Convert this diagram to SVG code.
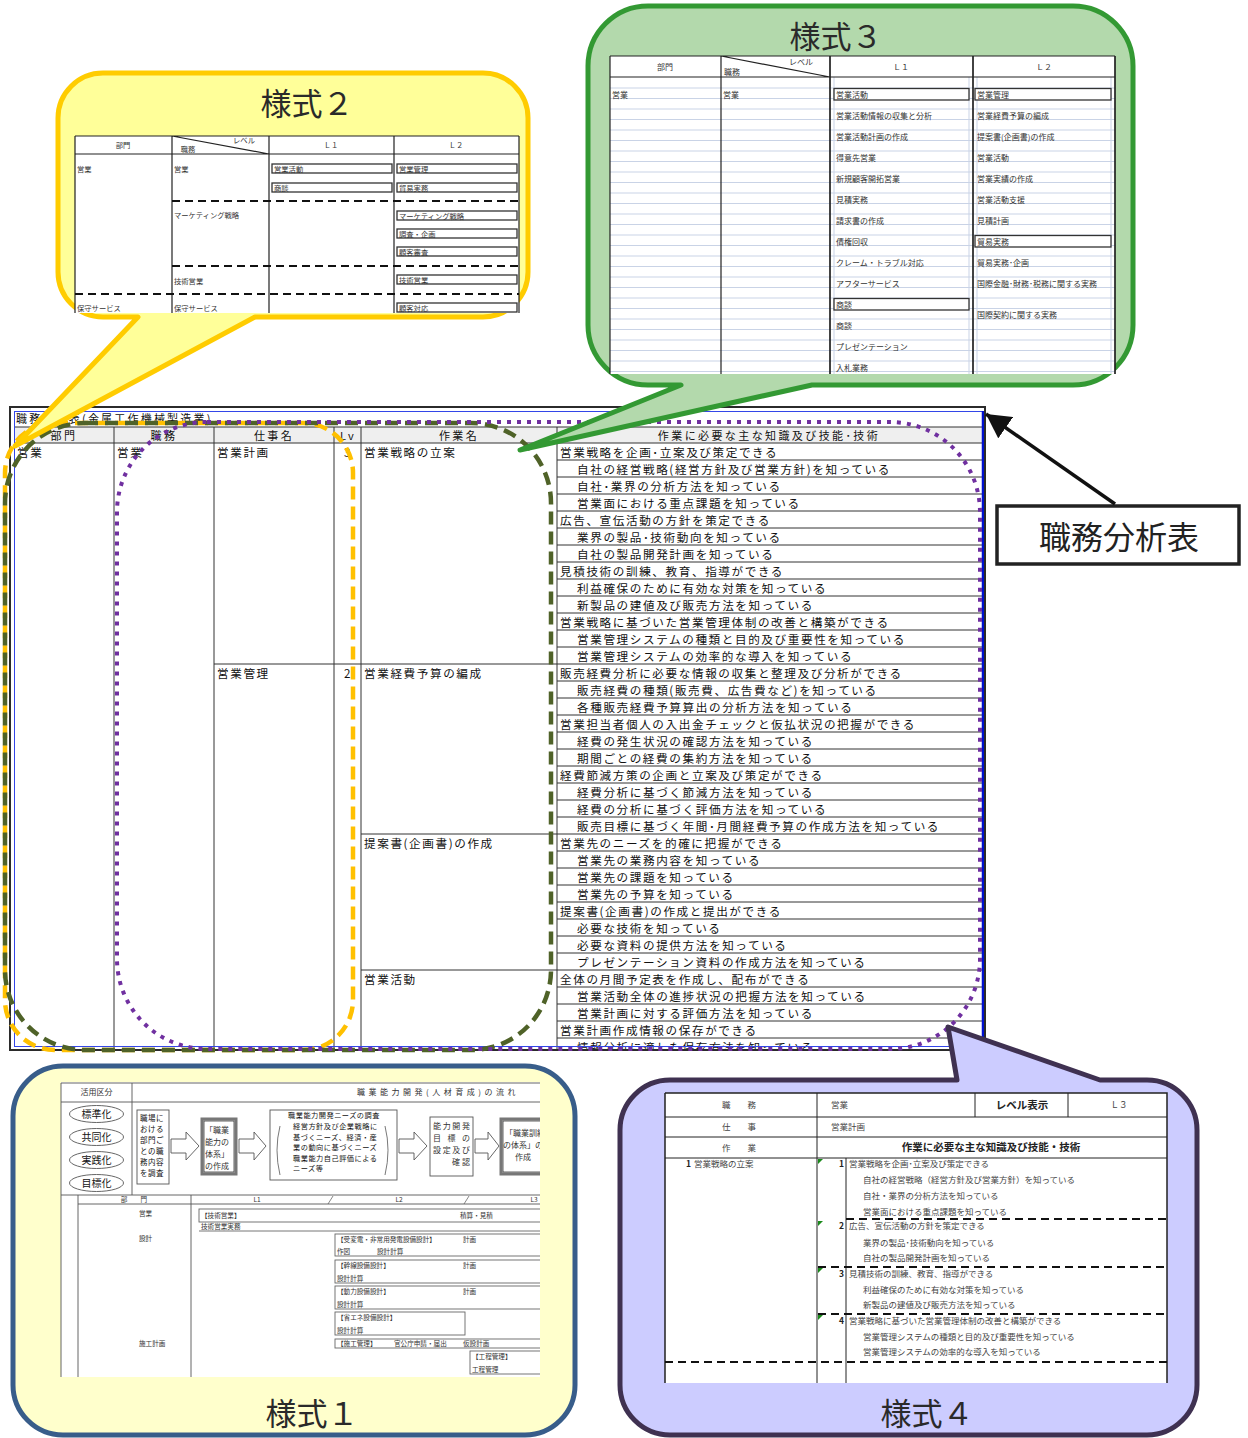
<svg xmlns="http://www.w3.org/2000/svg" width="1248" height="1438" viewBox="0 0 1248 1438">
<style>
  .t { font-family: "Noto Sans CJK JP", "Noto Sans CJK SC", sans-serif; fill: #111; }
  .mt { font-size: 11.6px; letter-spacing: 1.6px; }
  .hd { font-size: 11px; letter-spacing: 2.4px; text-anchor: middle; }
  .big { font-size: 31px; fill: #2a2a2a; text-anchor: middle; }
  .s7 { font-size: 7.3px; fill: #333; }
  .s8 { font-size: 8px; fill: #333; }
  .s4 { font-size: 8.5px; fill: #444; }
  .s6 { font-size: 6.6px; fill: #333; }
  .c { text-anchor: middle; }
  .e { text-anchor: end; }
  .b { font-weight: bold; fill: #222; }
  .grid { stroke: #333; stroke-width: 1; fill: none; }
  .box { fill: #fff; stroke: #333; stroke-width: 1.3; }
  .thin { fill: #fff; stroke: #555; stroke-width: 0.9; }
  .light { stroke: #c9d3e6; stroke-width: 1; fill: none; }
  .dash { stroke: #111; stroke-width: 1.8; stroke-dasharray: 8 5; fill: none; }
</style>
<defs>
  <clipPath id="mainClip"><rect x="10" y="407" width="975" height="642"/></clipPath>
  <clipPath id="y3Clip"><rect x="605" y="50" width="515" height="324"/></clipPath>
  <clipPath id="y1Clip"><rect x="55" y="1080" width="485" height="297"/></clipPath>
  <marker id="ah" viewBox="0 0 24 26" refX="24" refY="13" markerWidth="24" markerHeight="26" markerUnits="userSpaceOnUse" orient="auto">
    <path d="M0,0 L24,13 L0,26 z" fill="#111"/>
  </marker>
</defs>

<rect width="1248" height="1438" fill="#fff"/>

<!-- job analysis sheet -->
<g id="shokumu-table" class="t">
  <rect x="10" y="407" width="975" height="643" fill="#fff"/>
  <g clip-path="url(#mainClip)">
    <rect x="14" y="427" width="968" height="16" fill="#efefef"/>
    <path class="grid" d="M14 427H982M14 443H982M114 427V1050M214 427V1050M334 427V1050M361 427V1050M557 427V1050M214 664H557M361 834H557M361 970H557"/>
    <path class="grid" d="M557 460H982M557 477H982M557 494H982M557 511H982M557 528H982M557 545H982M557 562H982M557 579H982M557 596H982M557 613H982M557 630H982M557 647H982M557 664H982M557 681H982M557 698H982M557 715H982M557 732H982M557 749H982M557 766H982M557 783H982M557 800H982M557 817H982M557 834H982M557 851H982M557 868H982M557 885H982M557 902H982M557 919H982M557 936H982M557 953H982M557 970H982M557 987H982M557 1004H982M557 1021H982M557 1038H982"/>
    <text class="t" x="16" y="423" font-size="11" letter-spacing="2.2">職務分析表(金属工作機械製造業)</text>
    <text class="hd" x="64" y="439.5">部門</text>
    <text class="hd" x="164" y="439.5">職務</text>
    <text class="hd" x="274" y="439.5">仕事名</text>
    <text class="hd" x="348" y="439.5" letter-spacing="0.5">Lv</text>
    <text class="hd" x="459" y="439.5">作業名</text>
    <text class="hd" x="769" y="439.5">作業に必要な主な知識及び技能･技術</text>
    <text class="mt" x="17" y="457">営業</text>
    <text class="mt" x="117" y="457">営業</text>
    <text class="mt" x="217" y="457">営業計画</text>
    <text class="mt" x="344" y="457">3</text>
    <text class="mt" x="364" y="457">営業戦略の立案</text>
    <text class="mt" x="217" y="678">営業管理</text>
    <text class="mt" x="344" y="678">2</text>
    <text class="mt" x="364" y="678">営業経費予算の編成</text>
    <text class="mt" x="364" y="848">提案書(企画書)の作成</text>
    <text class="mt" x="364" y="984">営業活動</text>
    <g class="mt">
      <text x="560" y="457">営業戦略を企画･立案及び策定できる</text>
      <text x="577" y="474">自社の経営戦略(経営方針及び営業方針)を知っている</text>
      <text x="577" y="491">自社･業界の分析方法を知っている</text>
      <text x="577" y="508">営業面における重点課題を知っている</text>
      <text x="560" y="525">広告、宣伝活動の方針を策定できる</text>
      <text x="577" y="542">業界の製品･技術動向を知っている</text>
      <text x="577" y="559">自社の製品開発計画を知っている</text>
      <text x="560" y="576">見積技術の訓練、教育、指導ができる</text>
      <text x="577" y="593">利益確保のために有効な対策を知っている</text>
      <text x="577" y="610">新製品の建値及び販売方法を知っている</text>
      <text x="560" y="627">営業戦略に基づいた営業管理体制の改善と構築ができる</text>
      <text x="577" y="644">営業管理システムの種類と目的及び重要性を知っている</text>
      <text x="577" y="661">営業管理システムの効率的な導入を知っている</text>
      <text x="560" y="678">販売経費分析に必要な情報の収集と整理及び分析ができる</text>
      <text x="577" y="695">販売経費の種類(販売費、広告費など)を知っている</text>
      <text x="577" y="712">各種販売経費予算算出の分析方法を知っている</text>
      <text x="560" y="729">営業担当者個人の入出金チェックと仮払状況の把握ができる</text>
      <text x="577" y="746">経費の発生状況の確認方法を知っている</text>
      <text x="577" y="763">期間ごとの経費の集約方法を知っている</text>
      <text x="560" y="780">経費節減方策の企画と立案及び策定ができる</text>
      <text x="577" y="797">経費分析に基づく節減方法を知っている</text>
      <text x="577" y="814">経費の分析に基づく評価方法を知っている</text>
      <text x="577" y="831">販売目標に基づく年間･月間経費予算の作成方法を知っている</text>
      <text x="560" y="848">営業先のニーズを的確に把握ができる</text>
      <text x="577" y="865">営業先の業務内容を知っている</text>
      <text x="577" y="882">営業先の課題を知っている</text>
      <text x="577" y="899">営業先の予算を知っている</text>
      <text x="560" y="916">提案書(企画書)の作成と提出ができる</text>
      <text x="577" y="933">必要な技術を知っている</text>
      <text x="577" y="950">必要な資料の提供方法を知っている</text>
      <text x="577" y="967">プレゼンテーション資料の作成方法を知っている</text>
      <text x="560" y="984">全体の月間予定表を作成し、配布ができる</text>
      <text x="577" y="1001">営業活動全体の進捗状況の把握方法を知っている</text>
      <text x="577" y="1018">営業計画に対する評価方法を知っている</text>
      <text x="560" y="1035">営業計画作成情報の保存ができる</text>
      <text x="577" y="1052">情報分析に適した保存方法を知っている</text>
    </g>
  </g>
  <rect x="14.5" y="411.5" width="968" height="635" fill="none" stroke="#3346e8" stroke-width="1"/>
  <line x1="983" y1="411" x2="983" y2="1047" stroke="#0010d0" stroke-width="2.5"/>
  <rect x="10" y="407" width="975" height="643" fill="none" stroke="#2b2b2b" stroke-width="2"/>
</g>

<!-- dashed groupings drawn over the sheet -->
<g id="groupings" fill="none">
  <rect x="5" y="423" width="348" height="627" rx="50" stroke="#FFC000" stroke-width="4.5" stroke-dasharray="13 7"/>
  <rect x="5" y="423" width="546" height="627" rx="80" stroke="#4F6228" stroke-width="4.5" stroke-dasharray="13 7"/>
  <rect x="117" y="422" width="863" height="627" rx="90" stroke="#7030A0" stroke-width="4" stroke-dasharray="4 6"/>
</g>

<!-- form 2 callout -->
<g id="yoshiki2" class="t">
  <path d="M103 73H483A45 45 0 0 1 528 118V272A45 45 0 0 1 483 317H255L15 446L138 317H103A45 45 0 0 1 58 272V118A45 45 0 0 1 103 73Z" fill="#FFFF99" stroke="#FFCC00" stroke-width="5" stroke-linejoin="round"/>
  <text class="big" x="307" y="115">様式２</text>
  <rect x="75" y="136" width="444" height="177" fill="#fff"/>
  <path d="M75 136H519M75 154H519M75 136V313M172 136V313M269 136V313M394 136V313M519 136V313M172 136L269 154" stroke="#222" stroke-width="1.2" fill="none"/>
  <path class="dash" d="M172 201H519M172 266H519M75 294H519"/>
  <text class="s7 c" x="123" y="148">部門</text>
  <text class="s7 c" x="244" y="143">レベル</text>
  <text class="s7 c" x="188" y="152">職務</text>
  <text class="s7 c" x="331" y="148">Ｌ１</text>
  <text class="s7 c" x="456" y="148">Ｌ２</text>
  <text class="s7" x="77" y="172">営業</text>
  <text class="s7" x="174" y="172">営業</text>
  <text class="s7" x="174" y="218">マーケティング戦略</text>
  <text class="s7" x="174" y="284">技術営業</text>
  <text class="s7" x="77" y="311">保守サービス</text>
  <text class="s7" x="174" y="311">保守サービス</text>
  <g>
    <rect class="box" x="272" y="164" width="120" height="9"/>
    <rect class="box" x="272" y="183" width="120" height="9"/>
    <rect class="box" x="397" y="164" width="120" height="9"/>
    <rect class="box" x="397" y="183" width="120" height="9"/>
    <rect class="box" x="397" y="211" width="120" height="9"/>
    <rect class="box" x="397" y="229" width="120" height="9"/>
    <rect class="box" x="397" y="247" width="120" height="9"/>
    <rect class="box" x="397" y="275" width="120" height="9"/>
    <rect class="box" x="397" y="303" width="120" height="9"/>
  </g>
  <text class="s7" x="274" y="171.5">営業活動</text>
  <text class="s7" x="274" y="190.5">商談</text>
  <text class="s7" x="399" y="171.5">営業管理</text>
  <text class="s7" x="399" y="190.5">貿易実務</text>
  <text class="s7" x="399" y="218.5">マーケティング戦略</text>
  <text class="s7" x="399" y="236.5">調査・企画</text>
  <text class="s7" x="399" y="254.5">顧客審査</text>
  <text class="s7" x="399" y="282.5">技術営業</text>
  <text class="s7" x="399" y="310.5">顧客対応</text>
</g>

<!-- form 3 callout -->
<g id="yoshiki3" class="t">
  <path d="M648 6H1073A60 60 0 0 1 1133 66V325A60 60 0 0 1 1073 385H812L520 450L681 385H648A60 60 0 0 1 588 325V66A60 60 0 0 1 648 6Z" fill="#B3D9AC" stroke="#339933" stroke-width="5" stroke-linejoin="round"/>
  <text class="big" x="836" y="48">様式３</text>
  <g clip-path="url(#y3Clip)">
    <rect x="610" y="56" width="505" height="318" fill="#fff"/>
    <path class="light" d="M610 88H1115M610 98.5H1115M610 109H1115M610 119.5H1115M610 130H1115M610 140.5H1115M610 151H1115M610 161.5H1115M610 172H1115M610 182.5H1115M610 193H1115M610 203.5H1115M610 214H1115M610 224.5H1115M610 235H1115M610 245.5H1115M610 256H1115M610 266.5H1115M610 277H1115M610 287.5H1115M610 298H1115M610 308.5H1115M610 319H1115M610 329.5H1115M610 340H1115M610 350.5H1115M610 361H1115M610 371.5H1115M834 77V374M969 77V374M977 77V374M1111 77V374"/>
    <path d="M610 56H1115M610 77H1115M610 56V374M721 56V374M721 56L830 77" stroke="#222" stroke-width="1.2" fill="none"/>
    <path d="M830 56V374M973 56V374M1115 56V374" stroke="#222" stroke-width="1.7" fill="none"/>
    <text class="s8 c" x="665" y="70">部門</text>
    <text class="s8 c" x="801" y="64.5">レベル</text>
    <text class="s8 c" x="732" y="75">職務</text>
    <text class="s8 c" x="901" y="70">Ｌ１</text>
    <text class="s8 c" x="1044" y="70">Ｌ２</text>
    <rect class="box" x="834" y="88.5" width="135" height="11.5"/>
    <rect class="box" x="975" y="88.5" width="136" height="11.5"/>
    <rect class="box" x="834" y="298.5" width="135" height="11.5"/>
    <rect class="box" x="975" y="235.5" width="136" height="11.5"/>
    <text class="s8" x="612" y="97.5">営業</text>
    <text class="s8" x="723" y="97.5">営業</text>
    <g class="s8">
      <text x="836" y="97.5">営業活動</text>
      <text x="836" y="118.5">営業活動情報の収集と分析</text>
      <text x="836" y="139.5">営業活動計画の作成</text>
      <text x="836" y="160.5">得意先営業</text>
      <text x="836" y="181.5">新規顧客開拓営業</text>
      <text x="836" y="202.5">見積実務</text>
      <text x="836" y="223.5">請求書の作成</text>
      <text x="836" y="244.5">債権回収</text>
      <text x="836" y="265.5">クレーム・トラブル対応</text>
      <text x="836" y="286.5">アフターサービス</text>
      <text x="836" y="307.5">商談</text>
      <text x="836" y="328.5">商談</text>
      <text x="836" y="349.5">プレゼンテーション</text>
      <text x="836" y="370.5">入札業務</text>
      <text x="977" y="97.5">営業管理</text>
      <text x="977" y="118.5">営業経費予算の編成</text>
      <text x="977" y="139.5">提案書(企画書)の作成</text>
      <text x="977" y="160.5">営業活動</text>
      <text x="977" y="181.5">営業実績の作成</text>
      <text x="977" y="202.5">営業活動支援</text>
      <text x="977" y="223.5">見積計画</text>
      <text x="977" y="244.5">貿易実務</text>
      <text x="977" y="265.5">貿易実務･企画</text>
      <text x="977" y="286.5">国際金融･財務･税務に関する実務</text>
      <text x="977" y="318">国際契約に関する実務</text>
    </g>
  </g>
</g>

<!-- form 1 callout -->
<g id="yoshiki1" class="t">
  <rect x="13" y="1066" width="562" height="369" rx="50" fill="#FFFFCC" stroke="#385D8A" stroke-width="5"/>
  <text class="big" x="312" y="1425">様式１</text>
  <g clip-path="url(#y1Clip)">
    <rect x="61" y="1082" width="479" height="295" fill="#fff"/>
    <path d="M61 1083H545M61 1102H545M61 1195H545M61 1083V1377M132 1083V1195M78 1195V1377M191 1195V1377M78 1204H545" stroke="#555" stroke-width="0.9" fill="none"/>
    <text class="s8 c" x="96.5" y="1095">活用区分</text>
    <text class="s8" x="357" y="1095" letter-spacing="3.5">職業能力開発(人材育成)の流れ</text>
    <g>
      <ellipse class="thin" cx="96.5" cy="1114" rx="27" ry="8.5"/>
      <ellipse class="thin" cx="96.5" cy="1137" rx="27" ry="8.5"/>
      <ellipse class="thin" cx="96.5" cy="1160" rx="27" ry="8.5"/>
      <ellipse class="thin" cx="96.5" cy="1183" rx="27" ry="8.5"/>
    </g>
    <text class="t c" x="96.5" y="1117.5" font-size="10" fill="#333">標準化</text>
    <text class="t c" x="96.5" y="1140.5" font-size="10" fill="#333">共同化</text>
    <text class="t c" x="96.5" y="1163.5" font-size="10" fill="#333">実践化</text>
    <text class="t c" x="96.5" y="1186.5" font-size="10" fill="#333">目標化</text>
    <rect class="thin" x="137" y="1110" width="32" height="74"/>
    <g class="t" font-size="7.5" fill="#333" letter-spacing="0.5">
      <text x="140" y="1121">職場に</text>
      <text x="140" y="1132">おける</text>
      <text x="140" y="1143">部門ご</text>
      <text x="140" y="1154">との職</text>
      <text x="140" y="1165">務内容</text>
      <text x="140" y="1176">を調査</text>
    </g>
    <g class="thin">
      <polygon points="171,1139 186,1139 186,1132 199,1146 186,1160 186,1153 171,1153"/>
      <polygon points="239,1139 254,1139 254,1132 266,1146 254,1160 254,1153 239,1153"/>
      <polygon points="399,1139 414,1139 414,1132 427,1146 414,1160 414,1153 399,1153"/>
      <polygon points="475,1139 488,1139 488,1132 499,1146 488,1160 488,1153 475,1153"/>
    </g>
    <rect x="202" y="1119" width="34" height="55" fill="#fff" stroke="#777" stroke-width="3"/>
    <rect x="204" y="1121" width="30" height="51" fill="none" stroke="#222" stroke-width="0.7"/>
    <g class="s8">
      <text x="205" y="1133">「職業</text>
      <text x="205" y="1145">能力の</text>
      <text x="205" y="1157">体系」</text>
      <text x="205" y="1169">の作成</text>
    </g>
    <rect class="thin" x="270" y="1110" width="127" height="70"/>
    <path d="M280 1126Q274 1150 280 1175M385 1126Q391 1150 385 1175" stroke="#555" stroke-width="0.8" fill="none"/>
    <g class="t" font-size="7.2" fill="#333" letter-spacing="0.5">
      <text x="288" y="1118">職業能力開発ニーズの調査</text>
      <text x="293" y="1129">経営方針及び企業戦略に</text>
      <text x="293" y="1139.5">基づくニーズ、経済・産</text>
      <text x="293" y="1150">業の動向に基づくニーズ</text>
      <text x="293" y="1160.5">職業能力自己評価による</text>
      <text x="293" y="1171">ニーズ等</text>
    </g>
    <rect class="thin" x="430" y="1117" width="43" height="59"/>
    <g class="s8">
      <text x="433" y="1129" textLength="37" lengthAdjust="spacing">能力開発</text>
      <text x="433" y="1141" textLength="37" lengthAdjust="spacing">目標の</text>
      <text x="433" y="1153" textLength="37" lengthAdjust="spacing">設定及び</text>
      <text x="452" y="1165" textLength="18" lengthAdjust="spacing">確認</text>
    </g>
    <rect x="501" y="1119" width="48" height="55" fill="#fff" stroke="#777" stroke-width="3"/>
    <rect x="503" y="1121" width="44" height="51" fill="none" stroke="#222" stroke-width="0.7"/>
    <g class="s8">
      <text x="505" y="1136">「職業訓練</text>
      <text x="503" y="1148">の体系」の</text>
      <text x="515" y="1160">作成</text>
    </g>
    <g class="s6">
      <text x="134" y="1202" class="c">部　　門</text>
      <text x="257" y="1202" class="c">L1</text>
      <text x="399" y="1202" class="c">L2</text>
      <text x="534" y="1202" class="c">L3</text>
    </g>
    <path d="M328 1204L333 1196M464 1204L469 1196" stroke="#555" stroke-width="0.7"/>
    <g fill="none" stroke="#666" stroke-width="0.9">
      <rect x="199" y="1209" width="350" height="13"/>
      <path d="M199 1231H545"/>
      <rect x="335" y="1234" width="210" height="22"/>
      <rect x="335" y="1260" width="210" height="23"/>
      <rect x="335" y="1286" width="210" height="23"/>
      <rect x="335" y="1312" width="130" height="23"/>
      <rect x="335" y="1339" width="210" height="9"/>
      <rect x="470" y="1351" width="80" height="23"/>
    </g>
    <g class="s6">
      <text x="139" y="1216">営業</text>
      <text x="201" y="1218">【技術営業】</text>
      <text x="460" y="1218">積算・見積</text>
      <text x="201" y="1229">技術営業実務</text>
      <text x="139" y="1241">設計</text>
      <text x="337" y="1242">【受変電・非常用発電設備設計】</text>
      <text x="463" y="1242">計画</text>
      <text x="337" y="1254">作図</text>
      <text x="377" y="1254">設計計算</text>
      <text x="337" y="1268">【幹線設備設計】</text>
      <text x="463" y="1268">計画</text>
      <text x="337" y="1281">設計計算</text>
      <text x="337" y="1294">【動力設備設計】</text>
      <text x="463" y="1294">計画</text>
      <text x="337" y="1307">設計計算</text>
      <text x="337" y="1320">【省エネ設備設計】</text>
      <text x="337" y="1333">設計計算</text>
      <text x="139" y="1346">施工計画</text>
      <text x="337" y="1346">【施工管理】</text>
      <text x="394" y="1346">官公庁申請・届出</text>
      <text x="463" y="1346">仮設計画</text>
      <text x="472" y="1359">【工程管理】</text>
      <text x="472" y="1372">工程管理</text>
    </g>
  </g>
</g>

<!-- form 4 callout -->
<g id="yoshiki4" class="t">
  <path d="M670 1080H957L948 1027L1100 1080H1147A50 50 0 0 1 1197 1130V1385A50 50 0 0 1 1147 1435H670A50 50 0 0 1 620 1385V1130A50 50 0 0 1 670 1080Z" fill="#CCCCFF" stroke="#3F3151" stroke-width="5" stroke-linejoin="round"/>
  <text class="big" x="927" y="1425">様式４</text>
  <rect x="665" y="1093" width="502" height="290" fill="#fff"/>
  <path d="M665 1117H1167M665 1137H1167M665 1158H1167M817 1093V1383M975 1093V1117M1068 1093V1117M846 1158V1383" stroke="#222" stroke-width="1" fill="none"/>
  <path d="M665 1093H1167V1383M665 1093V1383" stroke="#222" stroke-width="1.5" fill="none"/>
  <path class="dash" d="M846 1219H1167M818 1267H1167M818 1314H1167M665 1362H1167" stroke-width="2" stroke-dasharray="11 7"/>
  <g fill="#1a8a1a">
    <polygon points="818,1159 823,1159 818,1164"/>
    <polygon points="818,1221 823,1221 818,1226"/>
    <polygon points="818,1268 823,1268 818,1273"/>
    <polygon points="818,1315 823,1315 818,1320"/>
  </g>
  <text class="s4 c" x="739" y="1108">職　　務</text>
  <text class="s4" x="831" y="1108">営業</text>
  <text class="t c b" x="1022" y="1109" font-size="10.5">レベル表示</text>
  <text class="s4 c" x="1119" y="1108">Ｌ３</text>
  <text class="s4 c" x="739" y="1130">仕　　事</text>
  <text class="s4" x="831" y="1130">営業計画</text>
  <text class="s4 c" x="739" y="1151">作　　業</text>
  <text class="t c b" x="991" y="1151" font-size="10.5">作業に必要な主な知識及び技能・技術</text>
  <text class="s4 b" x="686" y="1167">1</text>
  <text class="s4" x="694" y="1167">営業戦略の立案</text>
  <g class="s4 b e">
    <text x="844" y="1167">1</text>
    <text x="844" y="1229">2</text>
    <text x="844" y="1277">3</text>
    <text x="844" y="1324">4</text>
  </g>
  <g class="s4">
    <text x="849" y="1167">営業戦略を企画･立案及び策定できる</text>
    <text x="863" y="1183">自社の経営戦略（経営方針及び営業方針）を知っている</text>
    <text x="863" y="1199">自社・業界の分析方法を知っている</text>
    <text x="863" y="1215">営業面における重点課題を知っている</text>
    <text x="849" y="1229">広告、宣伝活動の方針を策定できる</text>
    <text x="863" y="1246">業界の製品･技術動向を知っている</text>
    <text x="863" y="1261">自社の製品開発計画を知っている</text>
    <text x="849" y="1277">見積技術の訓練、教育、指導ができる</text>
    <text x="863" y="1293">利益確保のために有効な対策を知っている</text>
    <text x="863" y="1308">新製品の建値及び販売方法を知っている</text>
    <text x="849" y="1324">営業戦略に基づいた営業管理体制の改善と構築ができる</text>
    <text x="863" y="1340">営業管理システムの種類と目的及び重要性を知っている</text>
    <text x="863" y="1355">営業管理システムの効率的な導入を知っている</text>
  </g>
</g>

<!-- sheet label -->
<g id="label-shokumu" class="t">
  <rect x="997" y="506" width="242" height="58" fill="#fff" stroke="#222" stroke-width="3.5"/>
  <text x="1119" y="549" font-size="32" text-anchor="middle" fill="#222">職務分析表</text>
</g>

<g id="connectors">
  <line x1="1115" y1="504" x2="986" y2="414" stroke="#111" stroke-width="3.5" marker-end="url(#ah)"/>
</g>
</svg>
